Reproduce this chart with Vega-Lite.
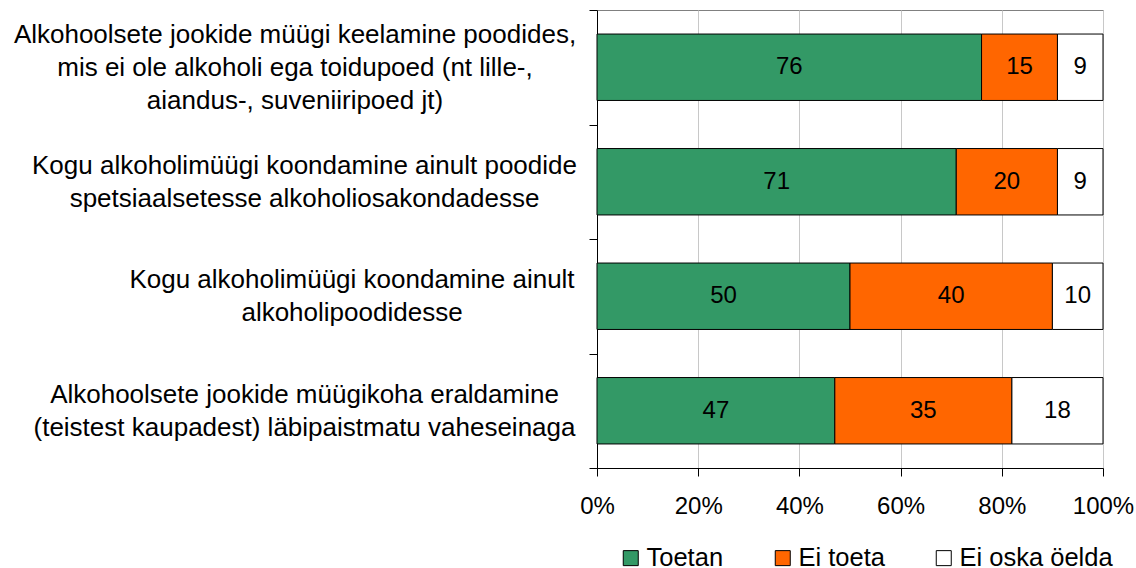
{
  "$schema": "https://vega.github.io/schema/vega-lite/v6.json",
  "width": 506,
  "height": 458,
  "autosize": {"type": "none"},
  "padding": {"left": 597, "top": 10, "right": 33, "bottom": 100},
  "background": "white",
  "config": {
    "font": "Liberation Sans",
    "view": {"stroke": "#808080", "strokeWidth": 1},
    "axis": {"labelFont": "Liberation Sans", "labelColor": "black", "domainColor": "black", "tickColor": "black"},
    "legend": {"labelFont": "Liberation Sans"}
  },
  "data": {
    "values": [
      {"q": "Alkohoolsete jookide müügi keelamine poodides,|mis ei ole alkoholi ega toidupoed (nt lille-,|aiandus-, suveniiripoed jt)", "k": "Toetan", "o": 1, "v": 76},
      {"q": "Alkohoolsete jookide müügi keelamine poodides,|mis ei ole alkoholi ega toidupoed (nt lille-,|aiandus-, suveniiripoed jt)", "k": "Ei toeta", "o": 2, "v": 15},
      {"q": "Alkohoolsete jookide müügi keelamine poodides,|mis ei ole alkoholi ega toidupoed (nt lille-,|aiandus-, suveniiripoed jt)", "k": "Ei oska öelda", "o": 3, "v": 9},
      {"q": "Kogu alkoholimüügi koondamine ainult poodide|spetsiaalsetesse alkoholiosakondadesse", "k": "Toetan", "o": 1, "v": 71},
      {"q": "Kogu alkoholimüügi koondamine ainult poodide|spetsiaalsetesse alkoholiosakondadesse", "k": "Ei toeta", "o": 2, "v": 20},
      {"q": "Kogu alkoholimüügi koondamine ainult poodide|spetsiaalsetesse alkoholiosakondadesse", "k": "Ei oska öelda", "o": 3, "v": 9},
      {"q": "Kogu alkoholimüügi koondamine ainult|alkoholipoodidesse", "k": "Toetan", "o": 1, "v": 50},
      {"q": "Kogu alkoholimüügi koondamine ainult|alkoholipoodidesse", "k": "Ei toeta", "o": 2, "v": 40},
      {"q": "Kogu alkoholimüügi koondamine ainult|alkoholipoodidesse", "k": "Ei oska öelda", "o": 3, "v": 10},
      {"q": "Alkohoolsete jookide müügikoha eraldamine|(teistest kaupadest) läbipaistmatu vaheseinaga", "k": "Toetan", "o": 1, "v": 47},
      {"q": "Alkohoolsete jookide müügikoha eraldamine|(teistest kaupadest) läbipaistmatu vaheseinaga", "k": "Ei toeta", "o": 2, "v": 35},
      {"q": "Alkohoolsete jookide müügikoha eraldamine|(teistest kaupadest) läbipaistmatu vaheseinaga", "k": "Ei oska öelda", "o": 3, "v": 18}
    ]
  },
  "encoding": {
    "y": {
      "field": "q",
      "type": "nominal",
      "sort": null,
      "scale": {"paddingInner": 0, "paddingOuter": 0},
      "axis": {
        "title": null,
        "tickBand": "extent",
        "tickSize": 8,
        "domainColor": "black",
        "labelExpr": "length(split(datum.label, '|')) == 3 ? [split(datum.label, '|')[0] + '\u2800', '\u2800', split(datum.label, '|')[1] + '\u2800', '\u2800', split(datum.label, '|')[2] + '\u2800'] : indexof(datum.label, 'alkoholipoodidesse') >= 0 ? ['\u2800', '\u2800\u2800\u2800\u2800\u2800' + split(datum.label, '|')[0], '\u2800', '\u2800\u2800\u2800\u2800\u2800' + split(datum.label, '|')[1]] : ['\u2800', split(datum.label, '|')[0], '\u2800', split(datum.label, '|')[1]]",
        "labelFontSize": 26,
        "labelLineHeight": 16.5,
        "labelOffset": -33,
        "labelAlign": "center",
        "labelBaseline": "middle",
        "labelLimit": 2000,
        "labelPadding": 285
      }
    },
    "x": {
      "field": "v",
      "type": "quantitative",
      "stack": "zero",
      "scale": {"domain": [0, 100], "nice": false},
      "axis": {
        "title": null,
        "values": [0, 20, 40, 60, 80, 100],
        "labelExpr": "datum.value + '%'",
        "labelFontSize": 24,
        "labelPadding": 18,
        "tickSize": 8,
        "grid": true,
        "gridColor": "#c8c8c8",
        "labelFlush": false
      }
    },
    "order": {"field": "o", "type": "quantitative"}
  },
  "layer": [
    {
      "mark": {"type": "bar", "stroke": "black", "strokeWidth": 1, "height": {"band": 0.58}},
      "encoding": {
        "color": {
          "field": "k",
          "type": "nominal",
          "scale": {"domain": ["Toetan", "Ei toeta", "Ei oska öelda"], "range": ["#339966", "#FF6600", "#FFFFFF"]},
          "legend": {
            "title": null,
            "orient": "none",
            "direction": "horizontal",
            "legendX": 21,
            "legendY": 535,
            "padding": 0,
            "symbolType": "square",
            "symbolSize": 225,
            "symbolStrokeColor": "black",
            "symbolStrokeWidth": 1,
            "symbolOpacity": 1,
            "labelFontSize": 25.5,
            "labelOffset": 3,
            "columnPadding": 46,
            "labelColor": "black"
          }
        }
      }
    },
    {
      "mark": {"type": "text", "fontSize": 24, "color": "black", "align": "center", "baseline": "middle"},
      "encoding": {
        "x": {"field": "v", "type": "quantitative", "stack": "zero", "bandPosition": 0.5},
        "text": {"field": "v", "type": "quantitative"},
        "detail": {"field": "k", "type": "nominal"}
      }
    }
  ]
}
